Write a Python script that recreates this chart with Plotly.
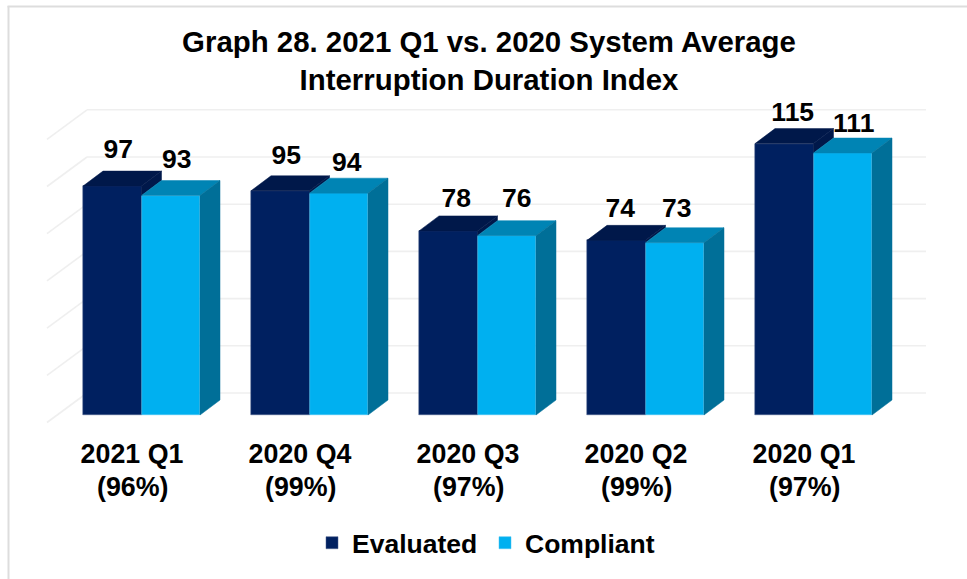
import plotly.graph_objects as go

categories = ["2021 Q1", "2020 Q4", "2020 Q3", "2020 Q2", "2020 Q1"]
percent_labels = ["(96%)", "(99%)", "(97%)", "(99%)", "(97%)"]
evaluated = [97, 95, 78, 74, 115]
compliant = [93, 94, 76, 73, 111]
grid_values = [0, 20, 40, 60, 80, 100, 120]

W, H = 967, 579
PX_SLOT = 168.0
PX_CENTER0 = 131.0
PX_UNIT = 2.36
PX_FLOOR = 415.0
PLOT_TOP, PLOT_BOTTOM = 92.0, 435.0

NAVY, NAVY_DK = "#002060", "#00184A"
BLUE, BLUE_TOP, BLUE_SIDE = "#00B0F0", "#0084B4", "#006F98"
GRID = "#EFEFEF"
FRAME = "#DDDDDD"
FONT = "Liberation Sans"

sx = lambda px: (px - PX_CENTER0) / PX_SLOT
dxu = lambda px: px / PX_SLOT
dyu = lambda px: px / PX_UNIT
sy = lambda px: (PX_FLOOR - px) / PX_UNIT
py = lambda px: (PLOT_BOTTOM - px) / (PLOT_BOTTOM - PLOT_TOP)

BAR_W = dxu(58.5)
BAR_SHIFT = dxu(10.5)
DX, DY = dxu(20), dyu(15)
label_nudge_ev = [(6, 20), (6, 18.5), (8, 16), (4, 15), (8.5, 14.5)]
label_nudge_co = [(6, 19), (8, 14), (10, 20), (2, 17), (11, 13)]

fig = go.Figure()
idx = list(range(len(categories)))
fig.add_bar(x=[i + BAR_SHIFT - BAR_W / 2 for i in idx], y=evaluated, width=BAR_W, name="Evaluated",
            marker=dict(color=NAVY, line=dict(color="#4A5E8C", width=0.5)), hoverinfo="x+y")
fig.add_bar(x=[i + BAR_SHIFT + BAR_W / 2 for i in idx], y=compliant, width=BAR_W, name="Compliant",
            marker=dict(color=BLUE, line=dict(color="#45C3F2", width=0.5)), hoverinfo="x+y")


def poly(xs, ys, color):
    fig.add_scatter(x=xs + xs[:1], y=ys + ys[:1], mode="lines", fill="toself", fillcolor=color,
                    line=dict(color=color, width=0.5), showlegend=False, hoverinfo="skip")


for i, e, c in zip(idx, evaluated, compliant):
    x0 = i + BAR_SHIFT - BAR_W
    x1 = i + BAR_SHIFT
    x2 = i + BAR_SHIFT + BAR_W
    poly([x0, x1, x1 + DX, x0 + DX], [e, e, e + DY, e + DY], NAVY_DK)
    poly([x1, x1 + DX, x1 + DX, x1], [e, e + DY, c + DY, c], NAVY_DK)
    poly([x1, x2, x2 + DX, x1 + DX], [c, c, c + DY, c + DY], BLUE_TOP)
    poly([x2, x2 + DX, x2 + DX, x2], [0, DY, c + DY, c], BLUE_SIDE)

lx, ly, lt = [], [], []
for i, e, c, ne, nc in zip(idx, evaluated, compliant, label_nudge_ev, label_nudge_co):
    lx.append(i + BAR_SHIFT - BAR_W / 2 + dxu(ne[0]))
    ly.append(e + DY + dyu(ne[1]))
    lt.append(str(e))
    lx.append(i + BAR_SHIFT + BAR_W / 2 + dxu(nc[0]))
    ly.append(c + DY + dyu(nc[1]))
    lt.append(str(c))
fig.add_scatter(x=lx, y=ly, text=lt, mode="text", textposition="middle center", cliponaxis=False,
                textfont=dict(family=FONT, size=26.5, color="#000000", weight="bold"),
                showlegend=False, hoverinfo="skip")

shapes = []
gx0, gx1, gx2 = sx(47), sx(87), sx(926)
for v in grid_values:
    yf = v - dyu(7.5)
    yb = v + dyu(22)
    shapes.append(dict(type="line", xref="x", yref="y", x0=gx0, y0=yf, x1=gx1, y1=yb, layer="below",
                       line=dict(color=GRID, width=1.6)))
    shapes.append(dict(type="line", xref="x", yref="y", x0=gx1, y0=yb, x1=gx2, y1=yb, layer="below",
                       line=dict(color=GRID, width=1.6)))
# picture frame
shapes.append(dict(type="line", xref="paper", yref="paper", x0=8.5 / W, x1=8.5 / W, y0=py(H), y1=py(6), layer="below",
                   line=dict(color=FRAME, width=2)))
shapes.append(dict(type="line", xref="paper", yref="paper", x0=7.5 / W, x1=1, y0=py(6.5), y1=py(6.5), layer="below",
                   line=dict(color=FRAME, width=2)))

annotations = [
    dict(x=i + dxu(1), y=py(487), xref="x", yref="paper", text=f"<b>{p}</b>", showarrow=False,
         font=dict(family=FONT, size=26.8, color="#000000"), yanchor="middle")
    for i, p in zip(idx, percent_labels)
]

fig.update_layout(
    width=W, height=H, autosize=False, barmode="overlay", bargap=0,
    paper_bgcolor="white", plot_bgcolor="rgba(0,0,0,0)",
    margin=dict(l=0, r=0, t=PLOT_TOP, b=H - PLOT_BOTTOM, pad=0),
    title=dict(text="<b>Graph 28. 2021 Q1 vs. 2020 System Average<br>Interruption Duration Index</b>",
               x=489 / W, xanchor="center", y=1 - 52 / H, yanchor="top",
               font=dict(family=FONT, size=29.4, color="#000000")),
    xaxis=dict(range=[sx(0), sx(W)], tickmode="array", tickvals=[i + dxu(1) for i in idx],
               ticktext=[f"<b>{c}</b>" for c in categories], ticks="", showgrid=False, zeroline=False,
               showline=False, tickfont=dict(family=FONT, size=26.8, color="#000000"), fixedrange=True),
    yaxis=dict(range=[sy(PLOT_BOTTOM), sy(PLOT_TOP)], visible=False, showgrid=False, zeroline=False, fixedrange=True),
    legend=dict(orientation="h", x=312 / W, xanchor="left", y=py(543), yanchor="middle",
                font=dict(family=FONT, size=26.5, color="#000000", weight="bold"), itemwidth=30,
                entrywidth=128, entrywidthmode="pixels",
                bgcolor="rgba(0,0,0,0)", tracegroupgap=0),
    shapes=shapes, annotations=annotations, showlegend=True,
)
fig.write_html("out.html", config={"displayModeBar": False},
               post_script="document.body.style.margin='0';document.body.style.overflow='hidden';")
